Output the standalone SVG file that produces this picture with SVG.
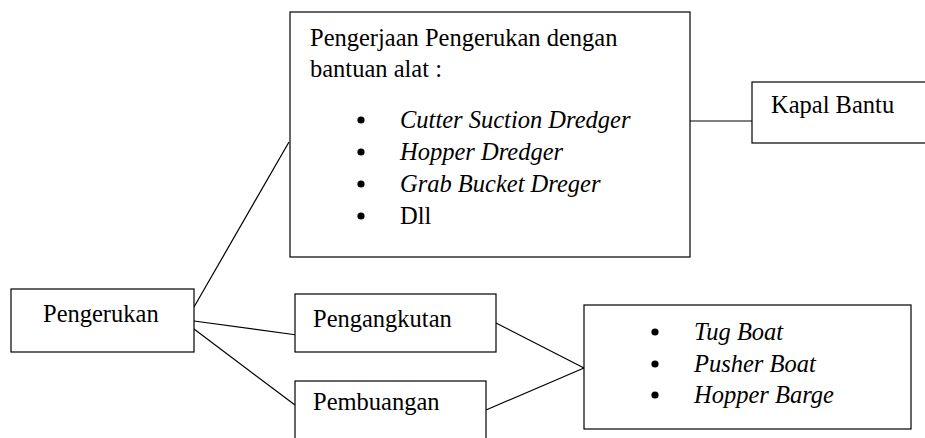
<svg xmlns="http://www.w3.org/2000/svg" width="925" height="438" viewBox="0 0 925 438">
<style>
.box{fill:#fff;stroke:#000;stroke-width:1.2}
.t{font-family:"Liberation Serif","Times New Roman",serif;font-size:24.5px;fill:#000}
.i{font-style:italic}
.b{fill:#000}
.c line{stroke:#000;stroke-width:1.2}
</style>
<rect width="925" height="438" fill="#fff"/>
<g class="c" id="connectors">
<line x1="194" y1="307" x2="289" y2="142"/>
<line x1="194" y1="321" x2="297" y2="335"/>
<line x1="194" y1="329" x2="295" y2="405"/>
<line x1="496" y1="323" x2="584" y2="368"/>
<line x1="486" y1="410" x2="584" y2="368"/>
<line x1="690" y1="121" x2="752" y2="121"/>
</g>
<g id="main">
<rect class="box" x="290" y="12" width="400" height="245"/>
<text class="t" x="310" y="46">Pengerjaan Pengerukan dengan</text>
<text class="t" x="310" y="77">bantuan alat :</text>
<circle class="b" cx="361" cy="120" r="3.6"/>
<circle class="b" cx="361" cy="152" r="3.6"/>
<circle class="b" cx="361" cy="184" r="3.6"/>
<circle class="b" cx="361" cy="216" r="3.6"/>
<text class="t i" x="400" y="128">Cutter Suction Dredger</text>
<text class="t i" x="400" y="160">Hopper Dredger</text>
<text class="t i" x="400" y="192">Grab Bucket Dreger</text>
<text class="t" x="400" y="224">Dll</text>
</g>
<g id="kapal">
<rect class="box" x="752" y="82" width="180" height="61"/>
<text class="t" x="771" y="113">Kapal Bantu</text>
</g>
<g id="pengerukan">
<rect class="box" x="11" y="289" width="183" height="63"/>
<text class="t" x="43" y="322">Pengerukan</text>
</g>
<g id="pengangkutan">
<rect class="box" x="295" y="294" width="201" height="58"/>
<text class="t" x="313" y="327">Pengangkutan</text>
</g>
<g id="pembuangan">
<rect class="box" x="295" y="381" width="191" height="70"/>
<text class="t" x="313" y="410">Pembuangan</text>
</g>
<g id="kapal-list">
<rect class="box" x="584" y="305" width="327" height="124"/>
<circle class="b" cx="655" cy="332" r="3.6"/>
<circle class="b" cx="655" cy="364" r="3.6"/>
<circle class="b" cx="655" cy="395" r="3.6"/>
<text class="t i" x="694" y="340">Tug Boat</text>
<text class="t i" x="694" y="372">Pusher Boat</text>
<text class="t i" x="694" y="403">Hopper Barge</text>
</g>
</svg>
